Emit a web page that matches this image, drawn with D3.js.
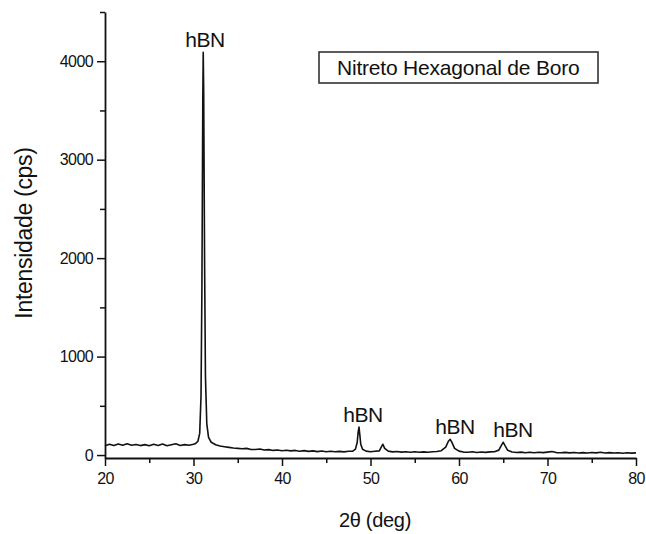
<!DOCTYPE html>
<html>
<head>
<meta charset="utf-8">
<script src="https://cdn.jsdelivr.net/npm/d3@7/dist/d3.min.js"></script>
<style>
  html, body { margin: 0; padding: 0; background: #fff; }
  svg { display: block; }
  text { font-family: "Liberation Sans", Arial, sans-serif; fill: #111; }
</style>
</head>
<body>
<svg id="chart" width="646" height="534"></svg>
<script>
// ---- data ----
const twoTheta = [
  20, 20.5, 21, 21.5, 22, 22.5, 23, 23.5, 24, 24.5, 25, 25.5, 26, 26.5, 27, 27.5, 28, 28.5, 29, 29.5, 30,
  30.25, 30.5, 30.7, 30.85, 30.95, 31.05, 31.1, 31.15, 31.25, 31.35, 31.5, 31.7, 32, 32.5,
  33, 33.5, 34, 34.5, 35, 35.5, 36, 36.5, 37, 37.5, 38, 38.5, 39, 39.5, 40, 40.5, 41, 41.5,
  42, 42.5, 43, 43.5, 44, 44.5, 45, 45.5, 46, 46.5, 47, 47.5, 48,
  48.3, 48.5, 48.6, 48.7, 48.8, 48.9, 49.1, 49.5, 50, 50.5, 51, 51.2, 51.4, 51.6, 52,
  52.5, 53, 53.5, 54, 54.5, 55, 55.5, 56, 56.5, 57, 57.5, 58, 58.5, 58.8, 59.0, 59.2, 59.5,
  60, 60.5, 61, 61.5, 62, 62.5, 63, 63.5, 64, 64.5, 64.8, 65.0, 65.2, 65.5, 66,
  66.5, 67, 67.5, 68, 68.5, 69, 69.5, 70, 70.5, 71, 71.5, 72, 72.5, 73, 73.5, 74, 74.5,
  75, 75.5, 76, 76.5, 77, 77.5, 78, 78.5, 79, 79.5, 80
];
const intensity = [
  95, 110, 96, 112, 100, 115, 100, 108, 96, 106, 94, 110, 98, 112, 95, 104, 114, 97, 106, 99, 110,
  118, 140, 220, 600, 1700, 3600, 4090, 3700, 2000, 800, 320, 180, 130, 105,
  92, 85, 78, 72, 68, 64, 68, 57, 56, 62, 51, 55, 47, 52, 44, 49, 42, 47,
  39, 45, 37, 42, 35, 41, 34, 39, 33, 37, 32, 38, 40,
  60, 130, 230, 284, 200, 110, 58, 40, 34, 38, 42, 78, 110, 68, 40,
  32, 36, 30, 34, 29, 33, 28, 32, 29, 34, 36, 44, 80, 140, 160, 128, 68,
  40, 30, 29, 33, 26, 31, 27, 32, 34, 50, 100, 130, 95, 48, 31,
  26, 30, 24, 29, 23, 28, 25, 30, 36, 25, 24, 27, 22, 26, 21, 25, 20,
  26, 22, 28, 21, 25, 20, 24, 19, 23, 20, 22
];
const peakTheta = [31.1, 48.7, 59.0, 65.0];
const peakIntensity = [4090, 284, 160, 130];
const peakLabel = ["hBN", "hBN", "hBN", "hBN"];
const labelTheta = [31.3, 49.15, 59.55, 66.1];
const xMajorTicks = [20, 30, 40, 50, 60, 70, 80];
const xMinorTicks = [25, 35, 45, 55, 65, 75];
const yMajorTicks = [0, 1000, 2000, 3000, 4000];
const yMinorTicks = [500, 1500, 2500, 3500, 4500];
const legendText = "Nitreto Hexagonal de Boro";
const xTitle = "2\u03b8 (deg)";
const yTitle = "Intensidade (cps)";

// ---- drawing ----
const svg = d3.select("#chart");
const x = d3.scaleLinear().domain([20, 80]).range([105, 636]);
const y = d3.scaleLinear().domain([-30, 4500]).range([458, 12]);

// data line
const pts = twoTheta.map((t, i) => [t, intensity[i]]);
svg.append("path")
  .datum(pts)
  .attr("fill", "none")
  .attr("stroke", "#111")
  .attr("stroke-width", 1.6)
  .attr("stroke-linejoin", "round")
  .attr("d", d3.line().x(d => x(d[0])).y(d => y(d[1])));

// x axis
const gx = svg.append("g").attr("transform", `translate(0,${y(-30)})`);
gx.call(d3.axisBottom(x).tickValues(xMajorTicks).tickSize(8).tickSizeOuter(0).tickPadding(4).tickFormat(d3.format("d")));
const gx2 = svg.append("g").attr("transform", `translate(0,${y(-30)})`);
gx2.call(d3.axisBottom(x).tickValues(xMinorTicks).tickSize(5).tickSizeOuter(0).tickFormat(""));
gx2.select(".domain").remove();

// y axis
const gy = svg.append("g").attr("transform", `translate(${x(20)},0)`);
gy.call(d3.axisLeft(y).tickValues(yMajorTicks).tickSize(8).tickSizeOuter(0).tickPadding(4).tickFormat(d3.format("d")));
const gy2 = svg.append("g").attr("transform", `translate(${x(20)},0)`);
gy2.call(d3.axisLeft(y).tickValues(yMinorTicks).tickSize(5).tickSizeOuter(0).tickFormat(""));
gy2.select(".domain").remove();

svg.selectAll(".domain").attr("stroke", "#111").attr("stroke-width", 1.8);
svg.selectAll(".tick line").attr("stroke", "#111").attr("stroke-width", 1.5);
svg.selectAll(".tick text")
  .attr("font-family", "Liberation Sans, Arial, sans-serif")
  .attr("font-size", 16)
  .attr("letter-spacing", -0.6)
  .attr("fill", "#1a1a1a");
gx.selectAll(".tick text").attr("dy", "0.9em");

// axis titles
svg.append("text")
  .attr("x", 375).attr("y", 527)
  .attr("text-anchor", "middle")
  .attr("font-size", 20)
  .attr("letter-spacing", -0.3)
  .text(xTitle);
svg.append("text")
  .attr("transform", "translate(32,233) rotate(-90)")
  .attr("text-anchor", "middle")
  .attr("font-size", 23)
  .attr("letter-spacing", -0.3)
  .text(yTitle);

// peak labels
svg.selectAll(".peak")
  .data(peakTheta)
  .enter().append("text")
  .attr("class", "peak")
  .attr("x", (d, i) => x(labelTheta[i]))
  .attr("y", (d, i) => y(peakIntensity[i]) - 5)
  .attr("text-anchor", "middle")
  .attr("font-size", 21)
  .attr("letter-spacing", -0.4)
  .text((d, i) => peakLabel[i]);

// legend box
svg.append("rect")
  .attr("x", 319).attr("y", 52).attr("width", 279).attr("height", 31)
  .attr("fill", "#fff").attr("stroke", "#333").attr("stroke-width", 1.6);
svg.append("text")
  .attr("x", 337).attr("y", 75)
  .attr("font-size", 21)
  .attr("letter-spacing", -0.2)
  .text(legendText);
</script>
</body>
</html>
